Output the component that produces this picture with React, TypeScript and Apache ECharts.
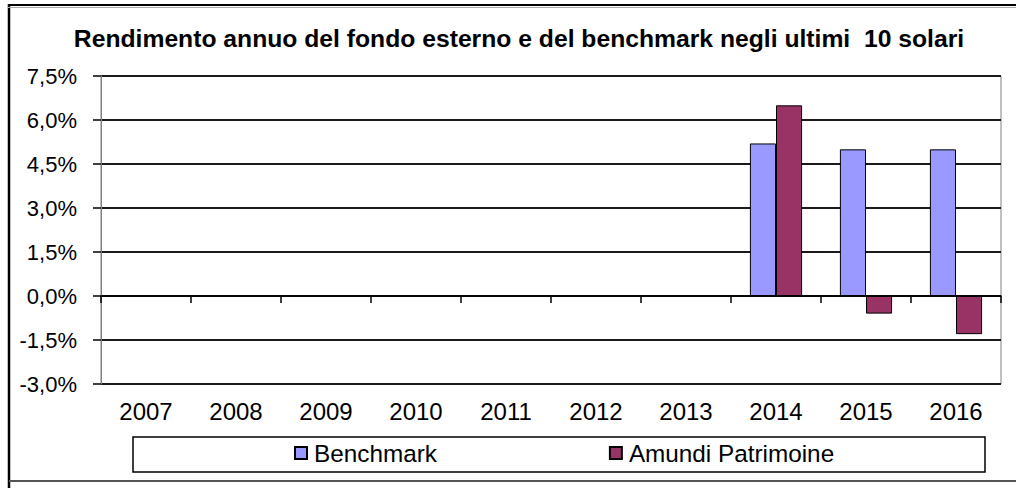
import React, { useEffect, useRef } from "react";
import * as echarts from "echarts";

const TITLE = "Rendimento annuo del fondo esterno e del benchmark negli ultimi  10 solari";
const years = ["2007", "2008", "2009", "2010", "2011", "2012", "2013", "2014", "2015", "2016"];
const benchmark: (number | null)[] = [null, null, null, null, null, null, null, 5.2, 5.0, 5.0];
const amundi: (number | null)[] = [null, null, null, null, null, null, null, 6.5, -0.6, -1.3];
const seriesNames = ["Benchmark", "Amundi Patrimoine"];
const FONT = 'Arial, "Liberation Sans", sans-serif';

export default function App() {
  const ref = useRef<HTMLDivElement>(null);
  useEffect(() => {
    if (!ref.current) return;
    const chart = echarts.init(ref.current, undefined, { renderer: "svg" });
    chart.setOption({
      animation: false,
      backgroundColor: "#fff",
      title: {
        text: TITLE,
        left: 514,
        textAlign: "center",
        top: 21,
        textStyle: { fontFamily: FONT, fontSize: 24.7, fontWeight: "bold", color: "#000" },
      },
      grid: {
        left: 101,
        top: 76,
        right: 15,
        bottom: 104,
        show: true,
        borderColor: "#808080",
        borderWidth: 1,
        backgroundColor: "transparent",
      },
      legend: {
        data: seriesNames,
        left: 294,
        top: 441,
        padding: 0,
        itemWidth: 12,
        itemHeight: 12,
        itemGap: 172,
        icon: "rect",
        textStyle: { fontFamily: FONT, fontSize: 24.3, color: "#000", padding: [0, 0, 0, 2] },
      },
      xAxis: [
        {
          type: "category",
          data: years,
          position: "bottom",
          axisLine: { show: false, onZero: false },
          axisTick: { show: false },
          axisLabel: { fontFamily: FONT, fontSize: 24, color: "#000", margin: 15 },
          splitLine: { show: false },
        },
        {
          type: "category",
          data: years,
          position: "bottom",
          axisLine: { show: true, onZero: true, lineStyle: { color: "#000", width: 1.5 } },
          axisTick: { show: true, length: 7, inside: false, lineStyle: { color: "#000", width: 1.5 } },
          axisLabel: { show: false },
          splitLine: { show: false },
        },
      ],
      yAxis: {
        type: "value",
        min: -3,
        max: 7.5,
        interval: 1.5,
        axisLine: { show: true, lineStyle: { color: "#808080", width: 1 } },
        axisTick: { show: true, length: 8, lineStyle: { color: "#000", width: 1.5 } },
        axisLabel: {
          fontFamily: FONT,
          fontSize: 22,
          color: "#000",
          margin: 24,
          formatter: (v: number) => v.toFixed(1).replace(".", ",") + "%",
        },
        splitLine: { show: true, lineStyle: { color: "#1a1a1a", width: 1.8 } },
      },
      series: [
        {
          name: seriesNames[0],
          type: "bar",
          xAxisIndex: 0,
          data: benchmark,
          barGap: "0%",
          barCategoryGap: "42%",
          itemStyle: { color: "#9999FF", borderColor: "#000", borderWidth: 1 },
        },
        {
          name: seriesNames[1],
          type: "bar",
          xAxisIndex: 0,
          data: amundi,
          barGap: "0%",
          barCategoryGap: "42%",
          itemStyle: { color: "#993366", borderColor: "#000", borderWidth: 1 },
        },
      ],
      graphic: [
        {
          type: "rect",
          shape: { x: 133, y: 437, width: 852, height: 35 },
          style: { fill: "none", stroke: "#000", lineWidth: 1.5 },
          silent: true,
        },
        {
          type: "line",
          shape: { x1: 9, y1: 4, x2: 9, y2: 488 },
          style: { stroke: "#000", lineWidth: 2.5 },
          silent: true,
        },
        {
          type: "line",
          shape: { x1: 8, y1: 5, x2: 1016, y2: 5 },
          style: { stroke: "#000", lineWidth: 2 },
          silent: true,
        },
        {
          type: "line",
          shape: { x1: 8, y1: 7.5, x2: 1016, y2: 7.5 },
          style: { stroke: "#aaa", lineWidth: 1 },
          silent: true,
        },
        {
          type: "line",
          shape: { x1: 9, y1: 481, x2: 1016, y2: 481 },
          style: { stroke: "#555", lineWidth: 2 },
          silent: true,
        },
      ],
    });
    return () => chart.dispose();
  }, []);
  return (
    <div
      ref={ref}
      style={{ position: "absolute", left: 0, top: 0, width: 1016, height: 488 }}
    />
  );
}
